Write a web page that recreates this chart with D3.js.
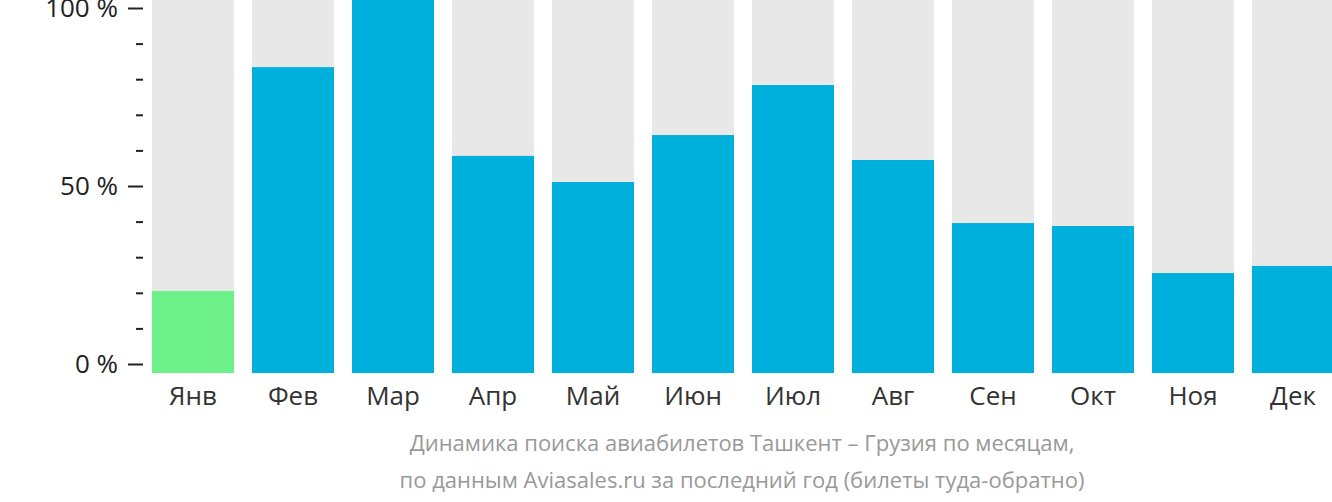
<!DOCTYPE html>
<html><head><meta charset="utf-8">
<script src="https://cdn.jsdelivr.net/npm/d3@7/dist/d3.min.js"></script>
<style>body{margin:0;background:#fff}svg{display:block}text{font-family:"Open Sans","Noto Sans",sans-serif}</style>
</head><body>
<script>
const months = ["Янв","Фев","Мар","Апр","Май","Июн","Июл","Авг","Сен","Окт","Ноя","Дек"];
const values = [22, 82, 100, 58.2, 51.2, 63.8, 77.2, 57.1, 40.2, 39.4, 26.8, 28.7];
const highlight = "Янв";
const tickValues = [0, 50, 100];
const minorTicks = [10,20,30,40,60,70,80,90];
const caption = ["Динамика поиска авиабилетов Ташкент – Грузия по месяцам,",
                 "по данным Aviasales.ru за последний год (билеты туда-обратно)"];

const W = 1332, H = 502;
const svg = d3.select("body").append("svg").attr("width", W).attr("height", H);

const x = d3.scaleBand().domain(months).range([152, 1334]).paddingInner(18/100).paddingOuter(0);
const yBar = d3.scaleLinear().domain([0, 100]).range([373, 0]);
const yAxis = d3.scaleLinear().domain([0, 100]).range([364, 8]);

svg.append("g").selectAll("rect").data(months).join("rect")
  .attr("x", d => x(d)).attr("width", x.bandwidth())
  .attr("y", yBar(100)).attr("height", yBar(0) - yBar(100))
  .attr("fill", "#e8e8e8");

svg.append("g").selectAll("rect").data(values).join("rect")
  .attr("x", (d, i) => x(months[i])).attr("width", x.bandwidth())
  .attr("y", d => yBar(d)).attr("height", d => yBar(0) - yBar(d))
  .attr("fill", (d, i) => months[i] === highlight ? "#6cf087" : "#00b0dc");

// Major axis
const ax = svg.append("g").attr("transform", "translate(143,0)")
  .call(d3.axisLeft(yAxis).tickValues(tickValues).tickSize(15).tickPadding(10).tickFormat(d => d + " %"));
ax.select(".domain").remove();
ax.selectAll("line").attr("stroke", "#222").attr("stroke-width", 2);
ax.selectAll("text").style("font-size", "26px").attr("fill", "#222").attr("dy", "0.34em");

const mi = svg.append("g").attr("transform", "translate(143,0)")
  .call(d3.axisLeft(yAxis).tickValues(minorTicks).tickSize(7).tickFormat(""));
mi.select(".domain").remove();
mi.selectAll("line").attr("stroke", "#222").attr("stroke-width", 2);

// X labels
const xa = svg.append("g").attr("transform", "translate(0,373)")
  .call(d3.axisBottom(x).tickSize(0).tickPadding(0));
xa.select(".domain").remove();
xa.selectAll("text").style("font-size", "26px").attr("fill", "#333").attr("dy", null).attr("y", 32);

svg.append("g").selectAll("text").data(caption).join("text")
  .attr("x", 742).attr("y", (d, i) => 451 + i * 36.5)
  .attr("text-anchor", "middle").style("font-size", "22px").attr("fill", "#999")
  .text(d => d);
</script>
</body></html>
